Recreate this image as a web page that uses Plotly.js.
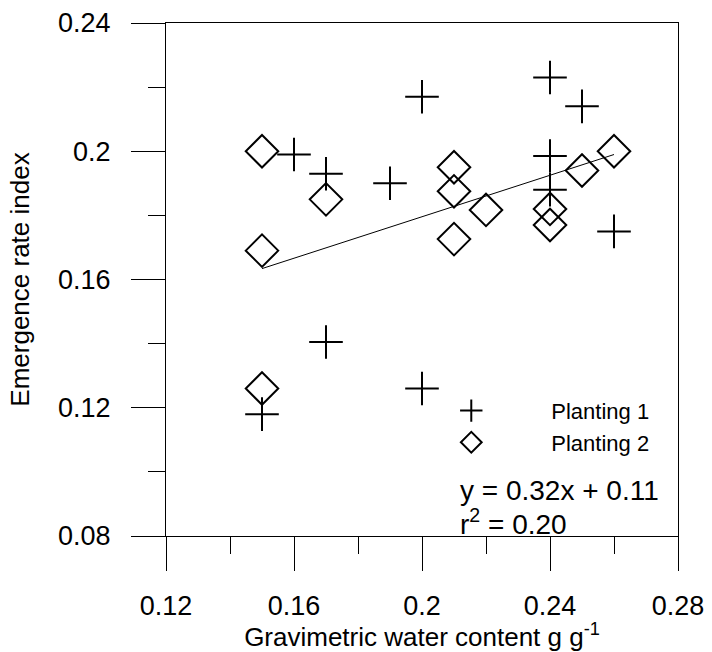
<!DOCTYPE html>
<html><head><meta charset="utf-8">
<script src="https://cdn.plot.ly/plotly-3.0.1.min.js"></script>
<style>html,body{margin:0;padding:0;background:#fff}</style>
</head><body><div id="chart" style="width:712px;height:652px"></div>
<script>
// Data
const planting1X = [0.15, 0.16, 0.17, 0.17, 0.19, 0.20, 0.20, 0.24, 0.24, 0.24, 0.25, 0.26];
const planting1Y = [0.118, 0.199, 0.193, 0.1405, 0.190, 0.217, 0.126, 0.223, 0.1985, 0.188, 0.214, 0.175];
const planting2X = [0.15, 0.15, 0.15, 0.17, 0.21, 0.21, 0.21, 0.22, 0.24, 0.24, 0.25, 0.26];
const planting2Y = [0.200, 0.169, 0.126, 0.185, 0.195, 0.1875, 0.1726, 0.1817, 0.182, 0.177, 0.194, 0.200];
const seriesNames = ['Planting 1', 'Planting 2'];
const xTickVals = [0.12, 0.16, 0.2, 0.24, 0.28];
const xTickText = ['0.12', '0.16', '0.2', '0.24', '0.28'];
const yTickVals = [0.08, 0.12, 0.16, 0.2, 0.24];
const yTickText = ['0.08', '0.12', '0.16', '0.2', '0.24'];
const eqText = 'y = 0.32x + 0.11';
const r2Text = 'r<sup>2</sup> = 0.20';
const xTitle = 'Gravimetric water content g g<sup>-1</sup>';
const yTitle = 'Emergence rate index';

// least-squares fit over both plantings
const allX = planting1X.concat(planting2X);
const allY = planting1Y.concat(planting2Y);
const n = allX.length;
const mx = allX.reduce((a, b) => a + b, 0) / n;
const my = allY.reduce((a, b) => a + b, 0) / n;
let sxy = 0, sxx = 0;
for (let i = 0; i < n; i++) { sxy += (allX[i] - mx) * (allY[i] - my); sxx += (allX[i] - mx) ** 2; }
const slope = sxy / sxx;
const intercept = my - slope * mx;
const fitX = [Math.min(...allX), Math.max(...allX)];
const fitY = fitX.map(x => slope * x + intercept);

const FONT = 'Liberation Sans, Arial, sans-serif';

const traces = [
  {
    x: planting1X, y: planting1Y, type: 'scatter', mode: 'markers', name: seriesNames[0],
    marker: { symbol: 'cross-thin-open', size: 24, color: 'black', line: { color: 'black', width: 2 } }
  },
  {
    x: planting2X, y: planting2Y, type: 'scatter', mode: 'markers', name: seriesNames[1],
    marker: { symbol: 'diamond-open', size: 25, color: 'black', line: { color: 'black', width: 2 } }
  },
  {
    x: fitX, y: fitY, type: 'scatter', mode: 'lines', showlegend: false,
    line: { color: 'black', width: 1 }
  }
];

const layout = {
  width: 712, height: 652,
  margin: { l: 166, r: 34, t: 23, b: 116 },
  paper_bgcolor: 'white', plot_bgcolor: 'white',
  font: { family: FONT, color: 'black', size: 26 },
  showlegend: true,
  legend: {
    x: 0.44, y: 0.285, xanchor: 'left', yanchor: 'top',
    bgcolor: 'rgba(0,0,0,0)', borderwidth: 0,
    font: { family: FONT, size: 22, color: 'black' },
    itemwidth: 150, itemsizing: 'trace', tracegroupgap: 0
  },
  xaxis: {
    range: [0.12, 0.28], tickmode: 'array', tickvals: xTickVals, ticktext: xTickText,
    showgrid: false, zeroline: false, showline: true, mirror: true, linecolor: 'black', linewidth: 1,
    ticks: 'outside', ticklen: 34, tickwidth: 1, tickcolor: 'black',
    ticklabelstandoff: 12,
    tickfont: { family: FONT, size: 27, color: 'black' },
    minor: { tickmode: 'linear', tick0: 0.12, dtick: 0.02, ticks: 'outside', ticklen: 17, tickwidth: 1, tickcolor: 'black', showgrid: false },
    title: { text: xTitle, font: { family: FONT, size: 26, color: 'black' }, standoff: 14 }
  },
  yaxis: {
    range: [0.08, 0.24], tickmode: 'array', tickvals: yTickVals, ticktext: yTickText,
    showgrid: false, zeroline: false, showline: true, mirror: true, linecolor: 'black', linewidth: 1,
    ticks: 'outside', ticklen: 34, tickwidth: 1, tickcolor: 'black',
    ticklabelstandoff: 15,
    tickfont: { family: FONT, size: 27, color: 'black' },
    minor: { tickmode: 'linear', tick0: 0.08, dtick: 0.02, ticks: 'outside', ticklen: 17, tickwidth: 1, tickcolor: 'black', showgrid: false },
    title: { text: yTitle, font: { family: FONT, size: 26, color: 'black' }, standoff: 20 }
  },
  annotations: [
    { xref: 'paper', yref: 'paper', x: 0.570, y: 0.0895, xanchor: 'left', yanchor: 'middle',
      text: eqText, showarrow: false, font: { family: FONT, size: 28, color: 'black' } },
    { xref: 'paper', yref: 'paper', x: 0.570, y: 0.027, xanchor: 'left', yanchor: 'middle',
      text: r2Text, showarrow: false, font: { family: FONT, size: 28, color: 'black' } }
  ]
};

Plotly.newPlot('chart', traces, layout, { displayModeBar: false, staticPlot: true });
</script>
</body></html>
